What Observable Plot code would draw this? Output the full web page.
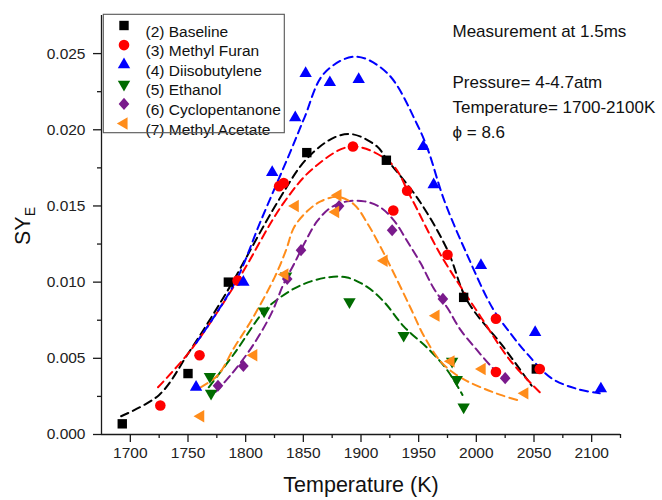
<!DOCTYPE html>
<html><head><meta charset="utf-8">
<script src="https://cdn.jsdelivr.net/npm/d3@7"></script>
<script src="https://cdn.jsdelivr.net/npm/@observablehq/plot@0.6"></script>
<style>
body{margin:0;background:#fff;}
#chart svg{font-family:"Liberation Sans",Arial,sans-serif;background:#fff;}
</style>
</head><body><div id="chart"></div>
<script>
// ---- axes ----
const xDomain = [1675, 2125];
const yDomain = [0, 0.0275];
const xMajorTicks = [1700, 1750, 1800, 1850, 1900, 1950, 2000, 2050, 2100];
const xMinorTicks = [1725, 1775, 1825, 1875, 1925, 1975, 2025, 2075, 2125];
const yMajorTicks = [0, 0.005, 0.010, 0.015, 0.020, 0.025];
const yMinorTicks = [0.0025, 0.0075, 0.0125, 0.0175, 0.0225];
const xTitle = "Temperature (K)";
const yTitleMain = "SY";
const yTitleSub = "E";
const annotationLines = ["Measurement at 1.5ms", "", "Pressure= 4-4.7atm", "Temperature= 1700-2100K", "\u03d5 = 8.6"];

// ---- series names / colours ----
const seriesNames = ["(2) Baseline", "(3) Methyl Furan", "(4) Diisobutylene", "(5) Ethanol", "(6) Cyclopentanone", "(7) Methyl Acetate"];
const seriesColors = ["#000000", "#ff0000", "#0000ff", "#006b00", "#7a1a8c", "#ff8c1a"];

// ---- measured points ----
const baselineT = [1693, 1750, 1785, 1853, 1922, 1989, 2052];
const baselineY = [0.0007, 0.0040, 0.0100, 0.0185, 0.0180, 0.0090, 0.0043];
const furanT = [1726, 1760, 1793, 1829, 1833, 1893, 1928, 1940, 1975, 2017, 2017, 2055];
const furanY = [0.0019, 0.0052, 0.0101, 0.0163, 0.0165, 0.0189, 0.0147, 0.0160, 0.0118, 0.0076, 0.0041, 0.0043];
const diisoT = [1757, 1798, 1823, 1843, 1852, 1873, 1898, 1954, 1963, 2004, 2051, 2108];
const diisoY = [0.0031, 0.0100, 0.0172, 0.0208, 0.0237, 0.0231, 0.0233, 0.0189, 0.0164, 0.0111, 0.0067, 0.0030];
const ethanolT = [1769, 1770, 1816, 1835, 1890, 1937, 1979, 1983, 1989];
const ethanolY = [0.0038, 0.0027, 0.0081, 0.0104, 0.0087, 0.0065, 0.0048, 0.0036, 0.0018];
const cycloT = [1776, 1798, 1836, 1848, 1881, 1927, 1971, 2025];
const cycloY = [0.0032, 0.0045, 0.0102, 0.0121, 0.0150, 0.0134, 0.0089, 0.0037];
const acetateT = [1761, 1807, 1834, 1843, 1878, 1880, 1920, 1965, 1978, 2005, 2042];
const acetateY = [0.0012, 0.0052, 0.0105, 0.0150, 0.0146, 0.0157, 0.0114, 0.0078, 0.0048, 0.0043, 0.0027];

// ---- fitted curves ----
const baselineFitT = [1692, 1725, 1750, 1784, 1828, 1853, 1877, 1893, 1914, 1922, 1950, 1975, 1992, 2024, 2048];
const baselineFitY = [0.0012, 0.0026, 0.0053, 0.0094, 0.0153, 0.0181, 0.0195, 0.0197, 0.0189, 0.0181, 0.0154, 0.0121, 0.0088, 0.0057, 0.0032];
const furanFitT = [1724, 1752, 1793, 1832, 1859, 1892, 1926, 1943, 1969, 2004, 2030, 2056];
const furanFitY = [0.0031, 0.0055, 0.0101, 0.0151, 0.0175, 0.0189, 0.0178, 0.0156, 0.0118, 0.0077, 0.0048, 0.0027];
const diisoFitT = [1757, 1775, 1793, 1813, 1839, 1851, 1868, 1895, 1923, 1949, 1958, 1972, 1992, 2014, 2030, 2044, 2065, 2087, 2107];
const diisoFitY = [0.0060, 0.0080, 0.0103, 0.0140, 0.0186, 0.0208, 0.0237, 0.0248, 0.0237, 0.0203, 0.0187, 0.0154, 0.0118, 0.0083, 0.0066, 0.0053, 0.0037, 0.0030, 0.0027];
const ethanolFitT = [1768, 1790, 1816, 1830, 1848, 1870, 1888, 1905, 1920, 1937, 1960, 1975, 1988];
const ethanolFitY = [0.0031, 0.0053, 0.0081, 0.0090, 0.0098, 0.0103, 0.0103, 0.0097, 0.0087, 0.0071, 0.0055, 0.0042, 0.0026];
const cycloFitT = [1774, 1787, 1805, 1822, 1833, 1842, 1852, 1862, 1874, 1888, 1903, 1917, 1929, 1940, 1952, 1963, 1975, 1986, 2001, 2015, 2025];
const cycloFitY = [0.0028, 0.0039, 0.0057, 0.0079, 0.0099, 0.0112, 0.0127, 0.0140, 0.0149, 0.0153, 0.0153, 0.0149, 0.0140, 0.0127, 0.0112, 0.0096, 0.0083, 0.0069, 0.0055, 0.0043, 0.0036];
const acetateFitT = [1761, 1776, 1790, 1805, 1825, 1835, 1842, 1854, 1865, 1880, 1894, 1906, 1917, 1929, 1943, 1955, 1969, 1981, 1992, 2007, 2021, 2038];
const acetateFitY = [0.0031, 0.0039, 0.0057, 0.0075, 0.0103, 0.0121, 0.0136, 0.0147, 0.0153, 0.0156, 0.0151, 0.0138, 0.0123, 0.0105, 0.0083, 0.0064, 0.0048, 0.0040, 0.0035, 0.0030, 0.0026, 0.0022];

// ---- symbols ----
const S3 = Math.sqrt(3);
const triUp = {draw(c, size){ const y = -Math.sqrt(size/(S3*3)); c.moveTo(0, y*2); c.lineTo(-S3*y, -y); c.lineTo(S3*y, -y); c.closePath(); }};
const triDown = {draw(c, size){ const y = -Math.sqrt(size/(S3*3)); c.moveTo(0, -y*2); c.lineTo(-S3*y, y); c.lineTo(S3*y, y); c.closePath(); }};
const triLeft = {draw(c, size){ const y = -Math.sqrt(size/(S3*3)); c.moveTo(y*2, 0); c.lineTo(-y, -S3*y); c.lineTo(-y, S3*y); c.closePath(); }};
const diamond = {draw(c, size){ const s = Math.sqrt(size); const hy = 0.68*s, hx = 0.6*s; c.moveTo(0,-hy); c.lineTo(hx,0); c.lineTo(0,hy); c.lineTo(-hx,0); c.closePath(); }};

const series = [
  {name: seriesNames[0], color: seriesColors[0], symbol: "square", r: 5.3, t: baselineT, y: baselineY, ft: baselineFitT, fy: baselineFitY},
  {name: seriesNames[1], color: seriesColors[1], symbol: "circle", r: 5.3, t: furanT, y: furanY, ft: furanFitT, fy: furanFitY},
  {name: seriesNames[2], color: seriesColors[2], symbol: triUp, r: 4.6, t: diisoT, y: diisoY, ft: diisoFitT, fy: diisoFitY},
  {name: seriesNames[3], color: seriesColors[3], symbol: triDown, r: 4.6, t: ethanolT, y: ethanolY, ft: ethanolFitT, fy: ethanolFitY},
  {name: seriesNames[4], color: seriesColors[4], symbol: diamond, r: 5.0, t: cycloT, y: cycloY, ft: cycloFitT, fy: cycloFitY},
  {name: seriesNames[5], color: seriesColors[5], symbol: triLeft, r: 4.6, t: acetateT, y: acetateY, ft: acetateFitT, fy: acetateFitY}
];

const axisColor = "#1a1a1a";
const marks = [];

// fitted dashed curves
series.forEach(s => {
  const rows = s.ft.map((t, i) => ({t, y: s.fy[i]}));
  marks.push(Plot.line(rows, {x: "t", y: "y", stroke: s.color, strokeWidth: 2, strokeDasharray: "8,5", curve: "catmull-rom"}));
});
// points
series.forEach(s => {
  const rows = s.t.map((t, i) => ({t, y: s.y[i]}));
  marks.push(Plot.dot(rows, {x: "t", y: "y", symbol: s.symbol, fill: s.color, stroke: "none", r: s.r}));
});
// axes
marks.push(
  Plot.ruleY([yDomain[0]], {stroke: axisColor, strokeWidth: 1.3}),
  Plot.ruleX([xDomain[0]], {stroke: axisColor, strokeWidth: 1.3}),
  Plot.axisX({ticks: xMajorTicks, tickSize: 8, tickPadding: 4, tickFormat: d => String(d), fontSize: 15.5, label: null, stroke: axisColor, fill: "#222", strokeWidth: 1.3}),
  Plot.axisX({ticks: xMinorTicks, tickSize: 4, tickFormat: () => "", label: null, stroke: axisColor, strokeWidth: 1.3}),
  Plot.axisY({ticks: yMajorTicks, tickSize: 8, tickPadding: 8, tickFormat: d3.format(".3f"), fontSize: 15.5, label: null, stroke: axisColor, fill: "#222", strokeWidth: 1.3}),
  Plot.axisY({ticks: yMinorTicks, tickSize: 4, tickFormat: () => "", label: null, stroke: axisColor, strokeWidth: 1.3}),
  Plot.text([xTitle], {frameAnchor: "bottom", dy: 57, fontSize: 21.5, fill: "#111"})
);
// legend
series.forEach((s, i) => {
  marks.push(Plot.dot([s.name], {frameAnchor: "top-left", dx: 22.5, dy: 10 + 19.6 * i, symbol: s.symbol, fill: s.color, stroke: "none", r: s.r}));
  marks.push(Plot.text([s.name], {frameAnchor: "top-left", dx: 44, dy: 10 + 19.6 * i, textAnchor: "start", fontSize: 15.5, fill: "#111"}));
});
// annotation
marks.push(Plot.text([annotationLines.join("\n")], {frameAnchor: "top-left", dx: 351, dy: 4, lineAnchor: "top", textAnchor: "start", fontSize: 17, lineHeight: 1.48, fill: "#111"}));

const chart = Plot.plot({
  width: 662, height: 500,
  marginLeft: 101, marginRight: 42, marginTop: 15, marginBottom: 66,
  x: {domain: xDomain},
  y: {domain: yDomain},
  marks
});

const svg = d3.select(chart);
// legend box
svg.append("rect").attr("x", 103.3).attr("y", 14.3).attr("width", 181).attr("height", 118.4)
  .attr("fill", "none").attr("stroke", "#555").attr("stroke-width", 1.1);
// y title with subscript
const yt = svg.append("text").attr("transform", "translate(30,226) rotate(-90)")
  .attr("text-anchor", "middle").attr("font-size", 21.5).attr("fill", "#111");
yt.append("tspan").text(yTitleMain);
yt.append("tspan").attr("font-size", 14).attr("dy", "0.35em").text(yTitleSub);

document.getElementById("chart").appendChild(chart);
</script>
</body></html>
